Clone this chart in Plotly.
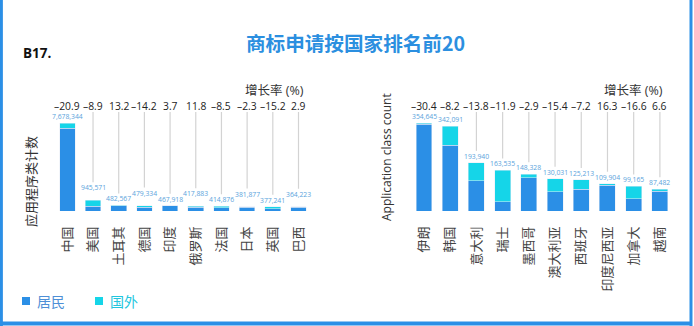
import plotly.graph_objects as go

# Top-20 origins of trademark application class counts, split into two panels
left_countries = ["中国", "美国", "土耳其", "德国", "印度", "俄罗斯", "法国", "日本", "英国", "巴西"]
left_resident = [7238000, 415000, 465000, 320000, 440000, 330000, 300000, 330000, 200000, 330000]
left_abroad = [440344, 530571, 17567, 159334, 27918, 87883, 114876, 51877, 177241, 34223]
left_growth = ["–20.9", "–8.9", "13.2", "–14.2", "3.7", "11.8", "–8.5", "–2.3", "–15.2", "2.9"]

right_countries = ["伊朗", "韩国", "意大利", "瑞士", "墨西哥", "澳大利亚", "西班牙", "印度尼西亚", "加拿大", "越南"]
right_resident = [350000, 264000, 122000, 38000, 135000, 78000, 88000, 104000, 50000, 80000]
right_abroad = [4645, 78091, 71940, 125535, 13328, 52031, 37213, 5904, 49165, 7482]
right_growth = ["–30.4", "–8.2", "–13.8", "–11.9", "–2.9", "–15.4", "–7.2", "16.3", "–16.6", "6.6"]

series_names = ["居民", "国外"]

BLUE = "#2B8FE6"
CYAN = "#15D5E8"
LABEL_BLUE = "#5AA3DC"
FONT = "Open Sans, Noto Sans CJK SC, sans-serif"
CJK = "Noto Sans CJK SC, sans-serif"

W, H = 694, 326
Y_DOMAIN = [1 - 211 / H, 1 - 112 / H]
PLOT_H = 99  # pixel height of the plotting band

fig = go.Figure()
shapes = []
annotations = []


def add_panel(countries, resident, abroad, xa, ya, stagger):
    totals = [r + a for r, a in zip(resident, abroad)]
    fig.add_trace(go.Bar(x=countries, y=resident, name=series_names[0], marker_color=BLUE,
                         xaxis=xa, yaxis=ya, showlegend=False))
    fig.add_trace(go.Bar(x=countries, y=abroad, name=series_names[1], marker_color=CYAN,
                         xaxis=xa, yaxis=ya, showlegend=False))
    rmax = max(totals) * 1.125
    for i, (c, t) in enumerate(zip(countries, totals)):
        # crowded small bars: alternate label heights so neighbours don't collide
        lift = 6 if (stagger and i % 2 == 1) else 0
        annotations.append(dict(x=c, y=t, xref=xa, yref=ya, text=f"{t:,}", showarrow=False,
                                yanchor="bottom", yshift=lift,
                                font=dict(size=6.8, color=LABEL_BLUE, family=FONT)))
        pad = rmax * (12 + lift) / PLOT_H
        if t + pad < rmax:
            shapes.append(dict(type="line", xref=xa, yref=ya, x0=c, x1=c, y0=t + pad, y1=rmax,
                               line=dict(color="#D3D3D3", width=1.2)))
    return rmax


left_max = add_panel(left_countries, left_resident, left_abroad, "x", "y", True)
right_max = add_panel(right_countries, right_resident, right_abroad, "x2", "y2", False)

# blue frame on the left, right and bottom edges
frame = dict(color="#2B8FE6", width=3)
shapes += [
    dict(type="line", xref="paper", yref="paper", x0=0.002, x1=0.002, y0=0, y1=1, line=frame),
    dict(type="line", xref="paper", yref="paper", x0=691 / W, x1=691 / W, y0=0, y1=1, line=frame),
    dict(type="line", xref="paper", yref="paper", x0=0, x1=691 / W, y0=2.5 / H, y1=2.5 / H,
         line=dict(color="#2B8FE6", width=4)),
]

for xa, cats, growth in (("x", left_countries, left_growth), ("x2", right_countries, right_growth)):
    for c, g in zip(cats, growth):
        annotations.append(dict(x=c, xref=xa, y=1 - 106 / H, yref="paper", text=g,
                                showarrow=False, yanchor="middle",
                                font=dict(size=10.3, color="#222", family=FONT)))

for xr in (306 / W, 665 / W):
    annotations.append(dict(x=xr, xref="paper", y=1 - 91 / H, yref="paper", text="增长率 (%)",
                            showarrow=False, xanchor="right", yanchor="middle",
                            font=dict(size=12.5, color="#333", family=FONT)))

annotations += [
    dict(x=355 / W, y=1 - 42 / H, xref="paper", yref="paper", text="<b>商标申请按国家排名前20</b>",
         showarrow=False, xanchor="center", yanchor="middle",
         font=dict(size=19.6, color="#2B8FE0", family=CJK)),
    dict(x=21 / W, y=1 - 53 / H, xref="paper", yref="paper", text="<b>B17.</b>",
         showarrow=False, xanchor="left", yanchor="middle",
         font=dict(size=13.5, color="#111", family=FONT)),
    dict(x=30 / W, y=1 - 182 / H, xref="paper", yref="paper", text="应用程序类计数",
         showarrow=False, textangle=-90, xanchor="center", yanchor="middle",
         font=dict(size=13, color="#333", family=CJK)),
    dict(x=386 / W, y=1 - 157 / H, xref="paper", yref="paper", text="Application class count",
         showarrow=False, textangle=-90, xanchor="center", yanchor="middle",
         font=dict(size=12, color="#333", family=FONT)),
]

# legend: coloured square followed by coloured label
for name, sq, txtc, x0 in ((series_names[0], BLUE, "#4E8FD6", 22), (series_names[1], CYAN, "#22C6DE", 95)):
    shapes.append(dict(type="rect", xref="paper", yref="paper", x0=x0 / W, x1=(x0 + 8) / W,
                       y0=1 - 305 / H, y1=1 - 297 / H, fillcolor=sq, line=dict(width=0)))
    annotations.append(dict(x=(x0 + 13) / W, y=1 - 301 / H, xref="paper", yref="paper", text=name,
                            showarrow=False, xanchor="left", yanchor="middle",
                            font=dict(size=14, color=txtc, family=CJK)))

xcommon = dict(tickangle=-90, showgrid=False, showline=False, zeroline=False, ticks="",
               tickfont=dict(size=13, color="#444", family=CJK), ticklabelstandoff=12,
               automargin=False, fixedrange=True)
ycommon = dict(showgrid=False, showline=False, zeroline=False, showticklabels=False,
               ticks="", automargin=False, domain=Y_DOMAIN)

fig.update_layout(
    width=W, height=H,
    margin=dict(l=0, r=0, t=0, b=0),
    paper_bgcolor="white", plot_bgcolor="white",
    barmode="stack", bargap=0.39,
    font=dict(family=FONT),
    xaxis=dict(domain=[49.85 / W, 313 / W], anchor="y", **xcommon),
    yaxis=dict(range=[0, left_max], anchor="x", **ycommon),
    xaxis2=dict(domain=[409 / W, 673 / W], anchor="y2", **xcommon),
    yaxis2=dict(range=[0, right_max], anchor="x2", **ycommon),
    shapes=shapes,
    annotations=annotations,
    showlegend=False,
)

fig.write_html("out.html")
